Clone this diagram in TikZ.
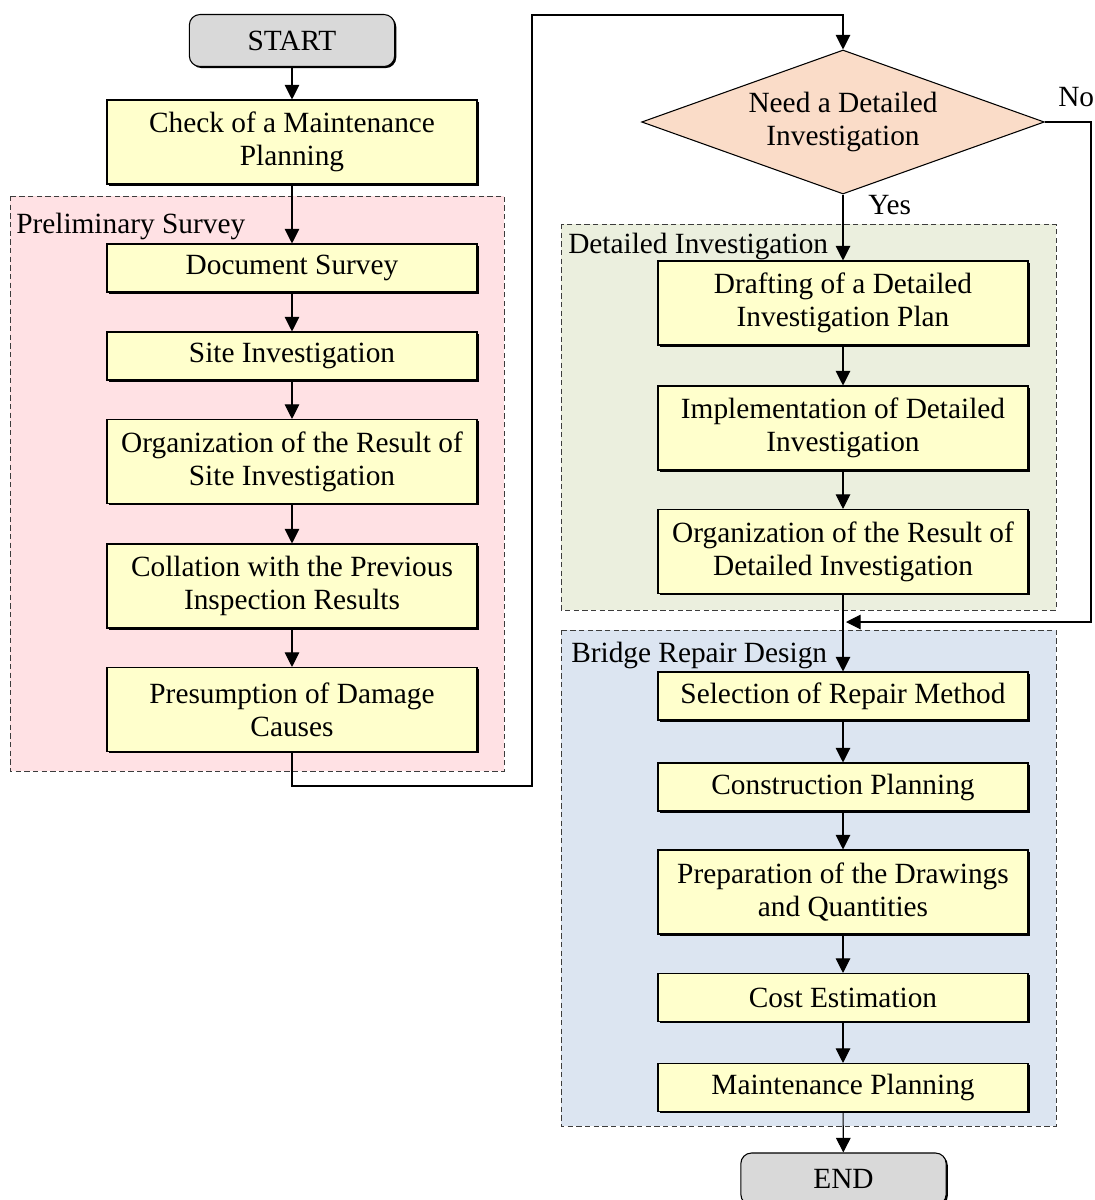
\documentclass[tikz,border=0pt]{standalone}
\usepackage{fontspec}
\setmainfont{Liberation Serif}
\usetikzlibrary{shapes.geometric}
\usetikzlibrary{arrows.meta}
\usetikzlibrary{shadows}

\begin{document}
\begin{tikzpicture}[x=0.75pt,y=0.75pt,yscale=-1,xscale=1,
  font=\fontsize{22}{25}\selectfont,
  proc/.style={draw, line width=0.8pt, fill={rgb, 255:red, 255; green, 255; blue, 204},
    minimum width=277.5pt, align=center, inner sep=2pt,
    drop shadow={shadow xshift=1.2pt, shadow yshift=-1.2pt, fill=black, opacity=1}},
  one/.style={proc, minimum height=36pt},
  two/.style={proc, minimum height=63pt},
  term/.style={draw, line width=0.8pt, rounded corners=8pt, fill={rgb, 255:red, 217; green, 217; blue, 217},
    minimum width=154pt, minimum height=39pt, inner sep=2pt,
    drop shadow={shadow xshift=1.2pt, shadow yshift=-1.2pt, fill=black, opacity=1}},
  area/.style={draw={rgb, 255:red, 60; green, 60; blue, 60}, dash pattern=on 4pt off 2.5pt, line width=0.7pt},
  link/.style={line width=0.8pt, -{Triangle[width=11pt,length=11pt]}},
  tag/.style={anchor=base west, inner sep=0pt}
]
\useasboundingbox (0,0) rectangle (1095,1200);

%Shape: Rectangle [id:preliminary]
\draw [area, fill={rgb, 255:red, 255; green, 225; blue, 228}] (10,196) rectangle (504,771);
%Shape: Rectangle [id:detailed]
\draw [area, fill={rgb, 255:red, 235; green, 239; blue, 222}] (561,224) rectangle (1056,610);
%Shape: Rectangle [id:repair]
\draw [area, fill={rgb, 255:red, 220; green, 229; blue, 241}] (561,630) rectangle (1056,1126);

% Left column
\node [term] (start) at (292,40.5) {START};
\node [two] (check) at (292,142) {Check of a Maintenance\\Planning};
\node [one] (docsurv) at (292,268) {Document Survey};
\node [one] (siteinv) at (292,356) {Site Investigation};
\node [two] (siteorg) at (292,461.5) {Organization of the Result of\\Site Investigation};
\node [two] (collate) at (292,586) {Collation with the Previous\\Inspection Results};
\node [two] (presume) at (292,709.5) {Presumption of Damage\\Causes};

% Right column
\node [diamond, aspect=2.8, draw, line width=0.8pt, fill={rgb, 255:red, 250; green, 220; blue, 200},
  minimum width=302pt, minimum height=108pt, inner sep=0pt, align=center] (need) at (843,122)
  {Need a Detailed\\Investigation};
\node [two] (draft) at (843,303) {Drafting of a Detailed\\Investigation Plan};
\node [two] (implem) at (843,428) {Implementation of Detailed\\Investigation};
\node [two] (detorg) at (843,551.5) {Organization of the Result of\\Detailed Investigation};
\node [one] (select) at (843,696) {Selection of Repair Method};
\node [one] (constr) at (843,787) {Construction Planning};
\node [two] (drawq) at (843,892) {Preparation of the Drawings\\and Quantities};
\node [one] (cost) at (843,997.5) {Cost Estimation};
\node [one] (mplan) at (843,1087.5) {Maintenance Planning};
\node [term] (end) at (843.5,1179) {END};

% Text Node
\node [tag] (prelab) at (16,233) {Preliminary Survey};
\node [tag] (detlab) at (568,253) {Detailed Investigation};
\node [tag] (replab) at (571,662) {Bridge Repair Design};
\node [tag] (nolab) at (1058,106) {No};
\node [tag] (yeslab) at (868,214) {Yes};

%Straight Lines
\draw [link] (start) -- (check);
\draw [link] (check) -- (docsurv);
\draw [link] (docsurv) -- (siteinv);
\draw [link] (siteinv) -- (siteorg);
\draw [link] (siteorg) -- (collate);
\draw [link] (collate) -- (presume);

\coordinate (turnA) at (532,786);
\coordinate (turnB) at (532,15);
\draw [link] (presume.south) |- (turnA) -- (turnB) -| (need.north);

\draw [link] (need.south) -- (draft.north);
\draw [link] (draft) -- (implem);
\draw [link] (implem) -- (detorg);
\draw [link] (detorg) -- (select);

\coordinate (noA) at (1091,622);
\coordinate (noB) at (846,622);
\draw [link] (need.east) -| (noA) -- (noB);

\draw [link] (select) -- (constr);
\draw [link] (constr) -- (drawq);
\draw [link] (drawq) -- (cost);
\draw [link] (cost) -- (mplan);
\draw [link] (mplan) -- (end);

\end{tikzpicture}
\end{document}
